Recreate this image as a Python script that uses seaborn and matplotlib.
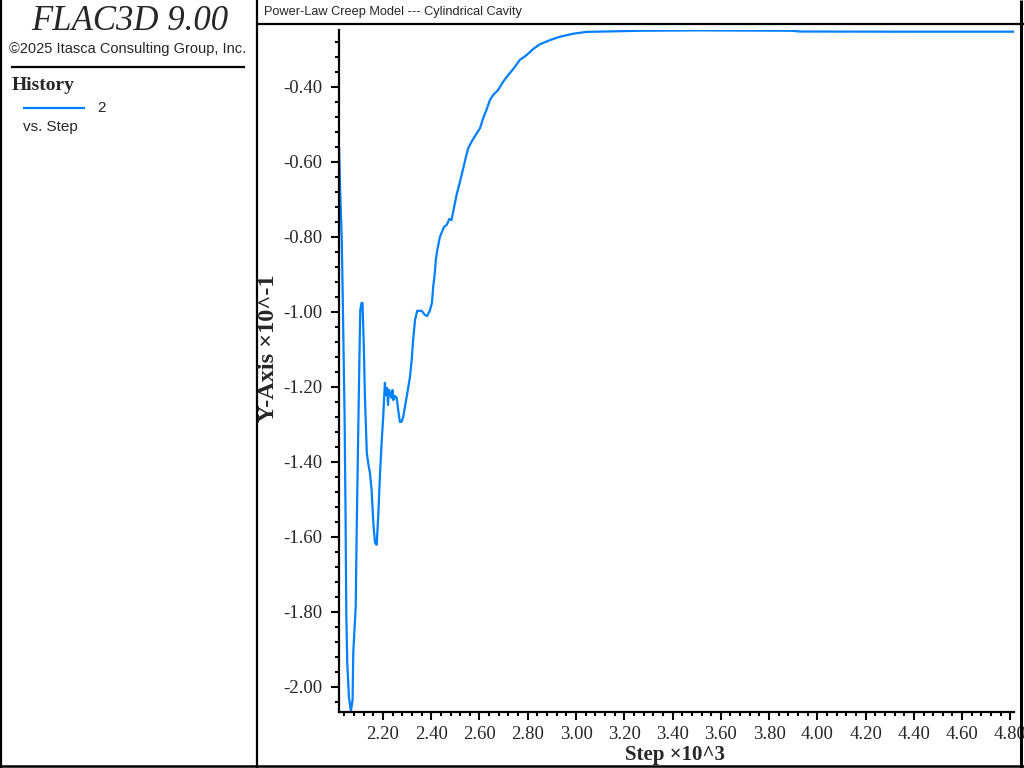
import numpy as np
import pandas as pd
import matplotlib
matplotlib.use("Agg")
import matplotlib.pyplot as plt
from matplotlib.lines import Line2D
from matplotlib.ticker import MultipleLocator, FormatStrFormatter
import seaborn as sns

# history 2 vs. step
steps = [2018, 2022, 2029, 2033, 2036, 2041, 2045, 2048, 2052, 2059,
         2067, 2074, 2077, 2087, 2091, 2096, 2103, 2106, 2111, 2115,
         2118, 2121, 2125, 2133, 2140, 2146, 2153, 2160, 2167, 2174,
         2181, 2188, 2195, 2201, 2208, 2212, 2217, 2221, 2225, 2229,
         2236, 2239, 2243, 2250, 2257, 2263, 2270, 2277, 2284, 2291,
         2301, 2312, 2319, 2325, 2333, 2342, 2360, 2374, 2383, 2395,
         2403, 2408, 2415, 2419, 2425, 2431, 2436, 2443, 2453, 2464,
         2475, 2484, 2494, 2505, 2519, 2533, 2544, 2553, 2567, 2588,
         2602, 2615, 2629, 2643, 2657, 2677, 2698, 2719, 2740, 2767,
         2795, 2822, 2850, 2892, 2933, 2988, 3043, 3195, 3264, 3513,
         3894, 3927, 4341, 4813]
values = [-0.560, -0.667, -0.800, -0.947, -1.075, -1.280, -1.547, -1.803, -1.936, -2.027,
          -2.065, -2.035, -1.907, -1.787, -1.587, -1.381, -1.101, -0.995, -0.976, -0.976,
          -1.035, -1.101, -1.221, -1.376, -1.408, -1.429, -1.475, -1.563, -1.616, -1.621,
          -1.536, -1.429, -1.341, -1.280, -1.189, -1.221, -1.203, -1.248, -1.208, -1.216,
          -1.229, -1.208, -1.235, -1.224, -1.229, -1.261, -1.293, -1.293, -1.280, -1.253,
          -1.216, -1.173, -1.128, -1.075, -1.021, -0.997, -0.997, -1.008, -1.011, -0.995,
          -0.976, -0.933, -0.896, -0.861, -0.835, -0.816, -0.800, -0.789, -0.773, -0.768,
          -0.752, -0.755, -0.723, -0.688, -0.653, -0.616, -0.586, -0.564, -0.546, -0.524,
          -0.510, -0.484, -0.461, -0.435, -0.421, -0.408, -0.386, -0.368, -0.352, -0.328,
          -0.315, -0.299, -0.286, -0.275, -0.266, -0.258, -0.253, -0.251, -0.250, -0.249,
          -0.250, -0.252, -0.2525, -0.2525]

blue = "#0080ff"
W, H = 1024, 768

sns.set_style("ticks")
plt.rcParams["font.family"] = ["Liberation Serif", "DejaVu Serif"]
plt.rcParams["axes.unicode_minus"] = False

fig = plt.figure(figsize=(W / 100, H / 100), dpi=100)
ax = fig.add_axes([339 / W, 1 - 712 / H, (1014 - 339) / W, (712 - 30) / H])

df = pd.DataFrame({"step": np.array(steps) / 1000.0, "val": values})
sns.lineplot(data=df, x="step", y="val", ax=ax, color=blue, linewidth=1.6,
             estimator=None, sort=False)

ax.set_xlim(2.0178, 4.815)
ax.set_ylim(-2.067, -0.248)
ax.xaxis.set_major_locator(MultipleLocator(0.2))
ax.xaxis.set_minor_locator(MultipleLocator(0.04))
ax.yaxis.set_major_locator(MultipleLocator(0.2))
ax.yaxis.set_minor_locator(MultipleLocator(0.04))
ax.xaxis.set_major_formatter(FormatStrFormatter("%.2f"))
ax.yaxis.set_major_formatter(FormatStrFormatter("%.2f"))
ax.set_xlabel("")
ax.set_ylabel("")

for s in ["top", "right"]:
    ax.spines[s].set_visible(False)
for s in ["left", "bottom"]:
    ax.spines[s].set_linewidth(1.6)
    ax.spines[s].set_color("black")
ax.tick_params(which="major", length=5.8, width=1.5, labelsize=13.5, color="black", pad=4)
ax.tick_params(which="minor", length=3.1, width=1.5, color="black")
ax.tick_params(axis="y", which="major", pad=6)

fig.text(268 / W, 1 - 348 / H, "Y-Axis \u00d710^-1", rotation=90, ha="center", va="center",
         fontsize=17.5, fontweight="bold")
fig.text(675 / W, 1 - 755 / H, "Step \u00d710^3", ha="center", va="center",
         fontsize=15, fontweight="bold")

# left info panel
fig.text(130 / W, 1 - 21.5 / H, "FLAC3D 9.00", ha="center", va="center",
         fontsize=25, style="italic")
fig.text(127.5 / W, 1 - 49 / H, "\u00a92025 Itasca Consulting Group, Inc.", ha="center", va="center",
         fontsize=10.5, family="Liberation Sans")
fig.text(12 / W, 1 - 86 / H, "History", ha="left", va="center", fontsize=14, fontweight="bold")
fig.text(97 / W, 1 - 107.5 / H, "2", ha="left", va="center", fontsize=11, family="Liberation Sans")
fig.text(23 / W, 1 - 127 / H, "vs. Step", ha="left", va="center", fontsize=11, family="Liberation Sans")
fig.text(264 / W, 1 - 11.7 / H, "Power-Law Creep Model --- Cylindrical Cavity", ha="left", va="center",
         fontsize=9.2, family="Liberation Sans")


def fline(x0, y0, x1, y1, color="black", lw=1.5):
    fig.add_artist(Line2D([x0 / W, x1 / W], [1 - y0 / H, 1 - y1 / H],
                          transform=fig.transFigure, color=color, linewidth=lw,
                          solid_capstyle="butt"))


fline(23, 107.5, 85, 107.5, color=blue, lw=1.6)
fline(11, 67, 245, 67, lw=1.6)
fline(1, 0, 1, 768, lw=1.6)
fline(0, 765.5, 1024, 765.5, lw=1.8)
fline(256.5, 0, 256.5, 768, lw=1.6)
fline(256, 24.3, 1024, 24.3, lw=1.6)
fline(1020.5, 0, 1020.5, 768, lw=2.2)

fig.savefig("out.png", dpi=100)
